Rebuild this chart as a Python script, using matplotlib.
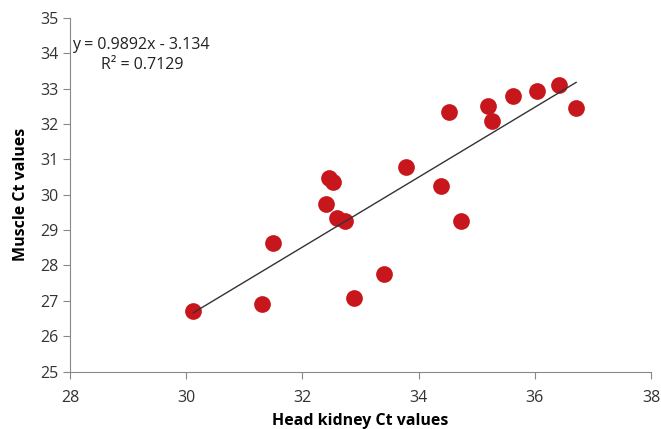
import numpy as np
from matplotlib import pyplot as plt

head_kidney = [30.12, 31.31, 31.50, 32.45, 32.53, 32.41, 32.59, 32.74, 32.88, 33.41,
               33.78, 34.38, 34.52, 34.72, 35.19, 35.26, 35.62, 36.03, 36.41, 36.71]
muscle = [26.72, 26.91, 28.63, 30.48, 30.37, 29.74, 29.34, 29.25, 27.08, 27.76,
          30.78, 30.24, 32.33, 29.26, 32.50, 32.08, 32.79, 32.93, 33.10, 32.45]
slope = 0.9892
intercept = -3.134
r2 = 0.7129

plt.rcParams['font.family'] = ['Open Sans', 'DejaVu Sans']

fig = plt.figure(figsize=(6.61, 4.29), dpi=100)
ax = fig.add_axes([0.106, 0.134, 0.879, 0.824])

ax.scatter(head_kidney, muscle, s=145, c="#C8171C", zorder=3, linewidths=0)
xs = np.array([min(head_kidney), max(head_kidney)])
ax.plot(xs, slope * xs + intercept, c="#333333", lw=1.0, zorder=4)

ax.set_xlim(28, 38)
ax.set_ylim(25, 35)
ax.set_xticks(range(28, 39, 2))
ax.set_yticks(range(25, 36))
for s in ["top", "right"]:
    ax.spines[s].set_visible(False)
for s in ["left", "bottom"]:
    ax.spines[s].set_color("#888888")
ax.tick_params(direction="out", length=5, color="#888888", labelsize=11.5, labelcolor="#333333")
ax.tick_params(axis="x", pad=8)

ax.set_xlabel("Head kidney Ct values", fontsize=11.5, fontweight="bold", labelpad=5)
ax.set_ylabel("Muscle Ct values", fontsize=11.5, fontweight="bold", labelpad=8)

ax.text(0.004, 0.924, f"y = {slope}x - {abs(intercept)}", transform=ax.transAxes,
        fontsize=11.5, color="#222222", va="center")
ax.text(0.124, 0.867, f"R² = {r2}", transform=ax.transAxes,
        fontsize=11.5, color="#222222", va="center", ha="center")

plt.savefig("out.png", dpi=100)
